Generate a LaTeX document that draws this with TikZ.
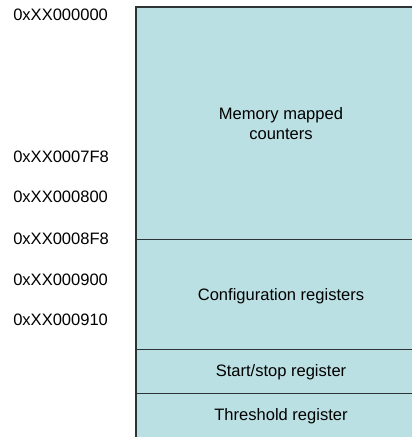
\documentclass[tikz,border=0pt]{standalone}
\usepackage{fontspec}
\setmainfont{Liberation Sans}
\definecolor{regfill}{HTML}{BBE0E3}
\definecolor{regline}{HTML}{2E3436}
\tikzset{
	addr/.style={anchor=west, inner sep=0pt, font=\fontsize{12.4}{15}\selectfont},
	field/.style={align=center, inner sep=0pt, font=\fontsize{12.4}{15}\selectfont},
}
\begin{document}
\begin{tikzpicture}[x=0.75pt, y=-0.75pt]
		\useasboundingbox (0,0) rectangle (412,437);
		% Register map
		\fill[regfill] (136,7) rectangle (412,437);
		\draw[regline, line width=0.9pt] (136,437) -- (136,7) -- (412,7);
		\draw[regline, line width=0.75pt] (136,239) -- (412,239);
		\draw[regline, line width=0.75pt] (136,349) -- (412,349);
		\draw[regline, line width=0.75pt] (136,393) -- (412,393);
		\node[field] (counters) at (281,124) {Memory mapped\\counters};
		\node[field] (config) at (281,296) {Configuration registers};
		\node[field] (startstop) at (281,372) {Start/stop register};
		\node[field] (threshold) at (281,416) {Threshold register};
		% Addresses
		\node[addr] (a0) at (13,15) {0xXX000000};
		\node[addr] (a1) at (13,157) {0xXX0007F8};
		\node[addr] (a2) at (13,197) {0xXX000800};
		\node[addr] (a3) at (13,239) {0xXX0008F8};
		\node[addr] (a4) at (13,280) {0xXX000900};
		\node[addr] (a5) at (13,320) {0xXX000910};
	\end{tikzpicture}
\end{document}
